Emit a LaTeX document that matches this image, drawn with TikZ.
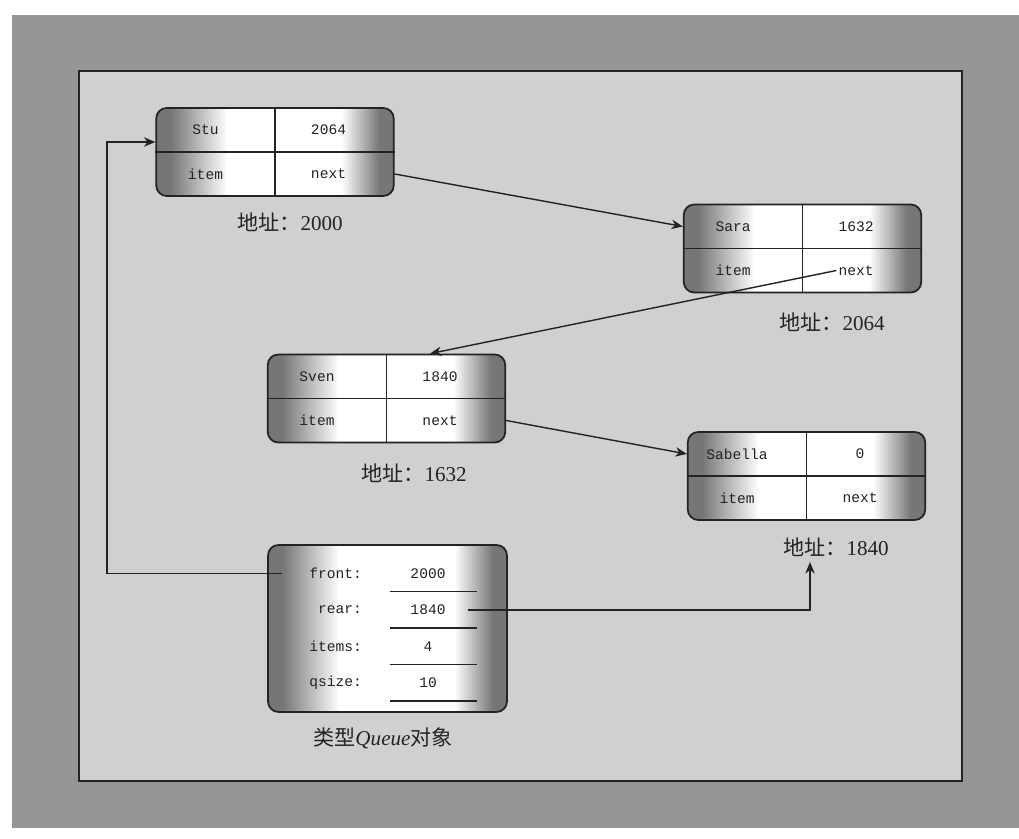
\documentclass[tikz,border=0pt]{standalone}
\usepackage{fontspec}
\setmainfont{Liberation Serif}
\setmonofont{Liberation Mono}
\newfontfamily\cjk{Noto Sans CJK SC}
\usetikzlibrary{arrows.meta,positioning,calc}
\definecolor{Ink}{RGB}{35,35,35}
\definecolor{BandGray}{RGB}{150,150,150}
\definecolor{PanelGray}{RGB}{208,208,208}
\definecolor{BoxGray}{RGB}{118,118,118}
\pgfdeclarehorizontalshading{cellshade}{100bp}{color(0bp)=(BoxGray); color(28bp)=(BoxGray); color(40bp)=(white); color(64bp)=(white); color(72bp)=(BoxGray); color(100bp)=(BoxGray)}
\tikzset{
  >=Stealth,
  rec/.style={draw=Ink,line width=1pt,rounded corners=6pt,shade,shading=cellshade,minimum width=4.75cm,minimum height=1.76cm,inner sep=0pt},
  qbox/.style={rec,minimum width=4.78cm,minimum height=3.34cm},
  divider/.style={draw=Ink,line width=.8pt},
  celltxt/.style={font=\ttfamily\fontsize{8.3}{10}\selectfont,text=Ink,inner sep=1pt},
  addr/.style={font=\fontsize{12}{14}\selectfont,text=Ink,inner sep=1pt},
  link/.style={-{Stealth[length=2.3mm,width=1.9mm]},line width=.8pt,draw=Ink}
}
\begin{document}
\begin{tikzpicture}[x=1cm,y=1cm]
  \useasboundingbox (0,0) rectangle (20.38,16.78);
  \fill[white] (0,0) rectangle (20.38,16.78);
  \fill[BandGray] (0.24,0.22) rectangle (20.38,16.48);
  \filldraw[fill=PanelGray,draw=Ink,line width=1pt] (1.58,1.16) rectangle (19.24,15.36);
  % list records
  \foreach \n/\x/\y/\a/\b in {stu/5.5/13.74/Stu/2064,sara/16.05/11.81/Sara/1632,sven/7.73/8.81/Sven/1840,sab/16.13/7.26/Sabella/0}{
    \node[rec] (\n) at (\x,\y) {};
    \draw[divider] (\n.north) -- (\n.south) (\n.west) -- (\n.east);
    \node[celltxt] (\n-a) at ([shift={(-1.39,.44)}]\n.center) {\a};
    \node[celltxt] (\n-b) at ([shift={(1.07,.44)}]\n.center) {\b};
    \node[celltxt] (\n-item) at ([shift={(-1.39,-.44)}]\n.center) {item};
    \node[celltxt] (\n-next) at ([shift={(1.07,-.44)}]\n.center) {next};
  }
  \node[addr] (stu-addr) at (5.8,12.34) {{\cjk 地址：}2000};
  \node[addr] (sara-addr) at (16.64,10.34) {{\cjk 地址：}2064};
  \node[addr] (sven-addr) at (8.28,7.32) {{\cjk 地址：}1632};
  \node[addr] (sab-addr) at (16.72,5.84) {{\cjk 地址：}1840};
  % queue object
  \node[qbox] (q) at (7.75,4.21) {};
  \foreach \k/\lab/\val/\dy in {front/front:/2000/1.1,rear/rear:/1840/.37,items/items:/4/-.36,qsize/qsize:/10/-1.09}{
    \node[celltxt,anchor=east] (q-\k) at ([shift={(-.47,\dy)}]q.center) {\lab};
    \node[celltxt] (q-\k-v) at ([shift={(.81,\dy)}]q.center) {\val};
    \draw[divider] ([shift={(.05,\dy-.36)}]q.center) -- ++(1.74,0);
  }
  \node[addr] (q-name) at (7.66,2.02) {{\cjk 类型}\textit{Queue}{\cjk 对象}};
  % links
  \draw[link] (stu.east |- stu-next) -- (sara.west |- sara-a);
  \draw[link] (sara-next.west) -- ([xshift=.87cm]sven.north);
  \draw[link] (sven.east |- sven-next) -- (sab.west |- sab-a);
  \coordinate (bendL) at (2.14,13.0);
  \draw[link] ([xshift=-.5cm]q-front.west) -| (bendL) |- ([yshift=.2cm]stu.west);
  \draw[link,shorten >=2pt] ([xshift=.4cm]q-rear-v.east) -| ([xshift=-.52cm]sab-addr.south);
\end{tikzpicture}
\end{document}
